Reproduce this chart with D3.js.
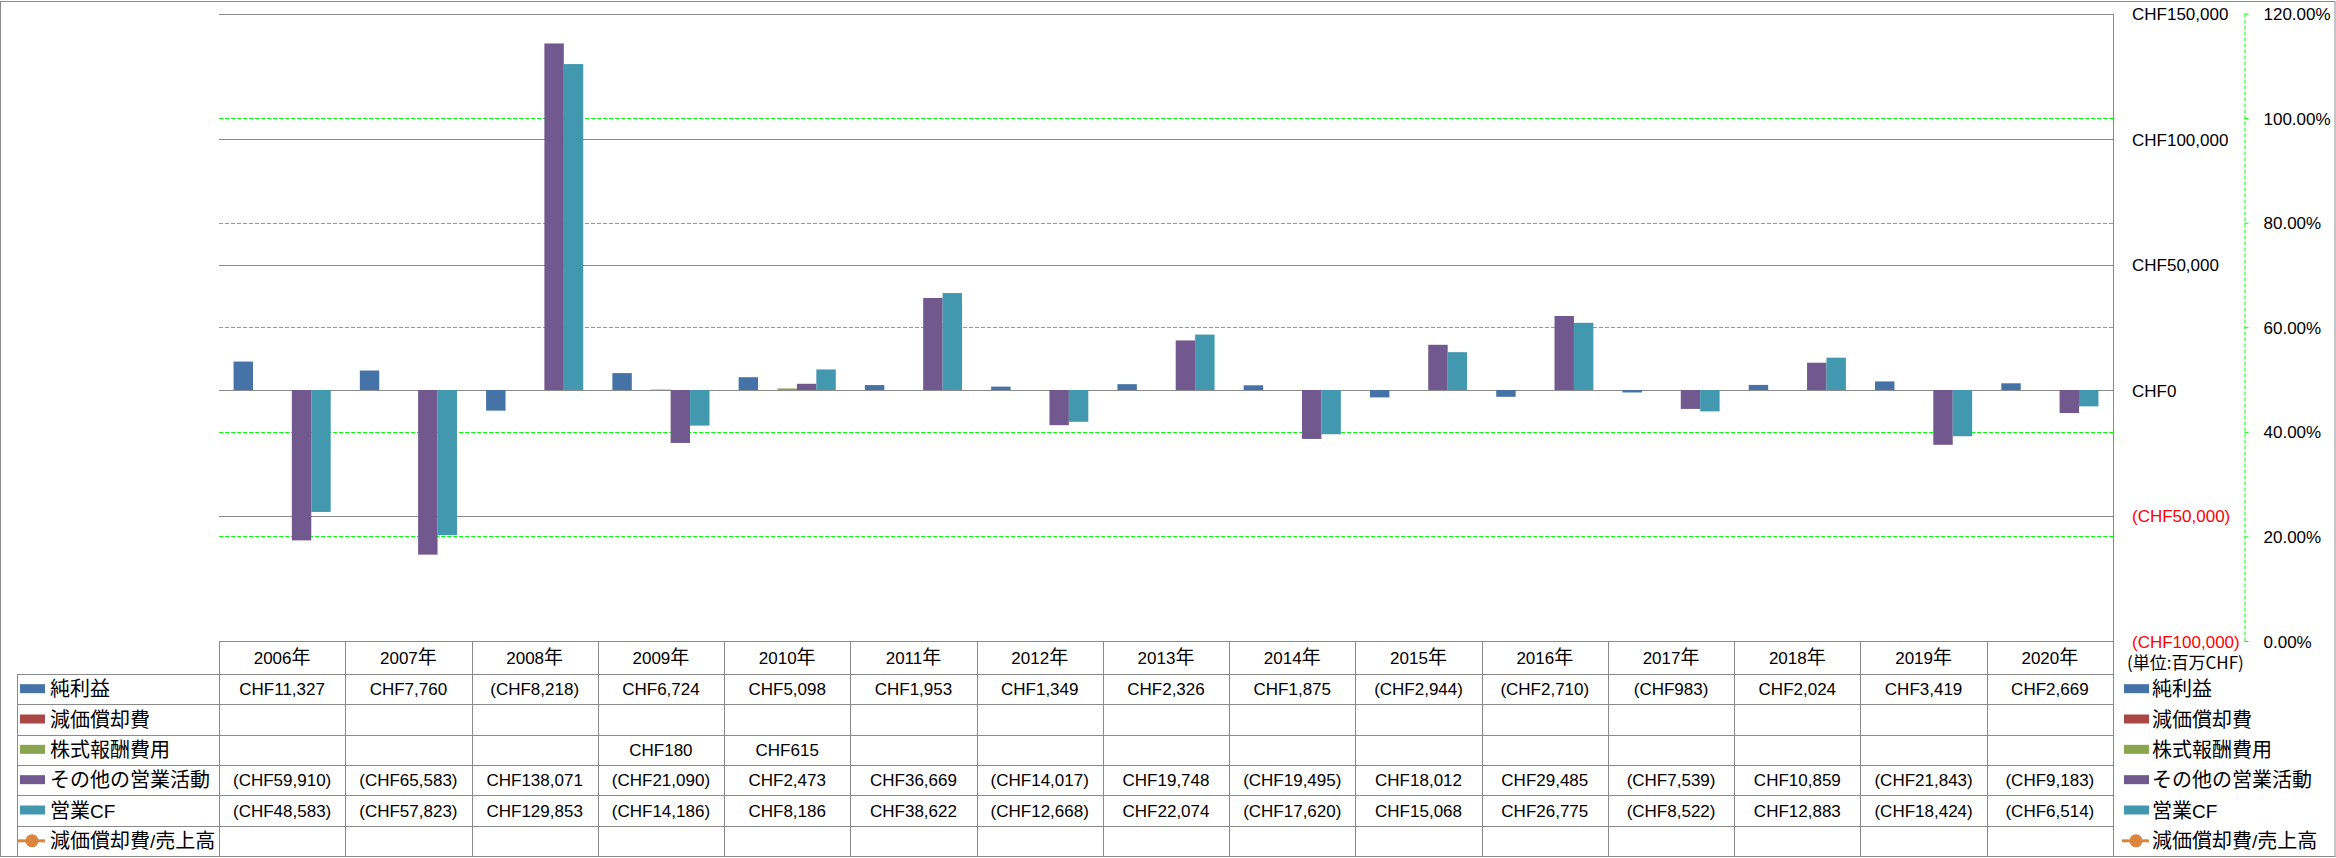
<!DOCTYPE html>
<html>
<head>
<meta charset="utf-8">
<script src="https://cdn.jsdelivr.net/npm/d3@7"></script>
<style>
  body { margin: 0; background: #fff; }
  svg { display: block; font-family: 'Liberation Sans', 'Noto Sans CJK JP', sans-serif; }
</style>
</head>
<body>
<svg class="cf-svg"></svg>
<script>

const years = ['2006年', '2007年', '2008年', '2009年', '2010年', '2011年', '2012年', '2013年',
    '2014年', '2015年', '2016年', '2017年', '2018年', '2019年', '2020年']

const seriesNames = ['純利益', '減価償却費', '株式報酬費用', 'その他の営業活動', '営業CF']
const lineName = '減価償却費/売上高'

const netIncome = [11327, 7760, -8218, 6724, 5098, 1953, 1349, 2326, 1875, -2944, -2710, -983, 2024, 3419, 2669]
const depreciation = [null, null, null, null, null, null, null, null, null, null, null, null, null, null, null]
const stockComp = [null, null, null, 180, 615, null, null, null, null, null, null, null, null, null, null]
const otherOps = [-59910, -65583, 138071, -21090, 2473, 36669, -14017, 19748, -19495, 18012, 29485, -7539, 10859, -21843, -9183]
const operatingCF = [-48583, -57823, 129853, -14186, 8186, 38622, -12668, 22074, -17620, 15068, 26775, -8522, 12883, -18424, -6514]
const depRatio = [null, null, null, null, null, null, null, null, null, null, null, null, null, null, null]

const valueTicks = [-100000, -50000, 0, 50000, 100000, 150000]
const pctTicks = [0, 0.2, 0.4, 0.6, 0.8, 1.0, 1.2]

const colors = ['#4572A7', '#AA4643', '#89A54E', '#71588F', '#4198AF']
const lineColor = '#DB843D'

const width = 2336
const height = 858

const plot = { left: 219, right: 2113, top: 13.5, bottom: 641 }
const tableBottom = 856
const labelLeft = 17

const svg = d3.select('.cf-svg')
    .attr('width', width)
    .attr('height', height)

const x0 = d3.scaleBand()
    .domain(years)
    .range([ plot.left, plot.right ])

const x1 = d3.scaleBand()
    .domain(seriesNames)
    .range([ 0, x0.bandwidth() ])
    .paddingOuter(0.75)

const yScale = d3.scaleLinear()
    .domain([ -100000, 150000 ])
    .range([ plot.bottom, plot.top ])

const pScale = d3.scaleLinear()
    .domain([ 0, 1.2 ])
    .range([ plot.bottom, plot.top ])

const rowY = d3.scaleLinear()
    .domain([ 0, 6 ])
    .range([ 674, tableBottom ])

const grey = '#8A8A8A'
const comma = d3.format(',')
const chf = v => v == null ? '' : (v < 0 ? `(CHF${comma(-v)})` : `CHF${comma(v)}`)

// split text in latin / CJK runs so each gets its own font
const cjk = /[\u3000-\u30ff\u3400-\u9fff\uff00-\uffef]/
const addText = (el, str, latinSize, cjkSize) => {
    const runs = []
    for (const ch of str) {
        const c = cjk.test(ch)
        if (runs.length && runs[runs.length - 1].c === c) runs[runs.length - 1].t += ch
        else runs.push({ c, t: ch })
    }
    runs.forEach(r => el.append('tspan')
        .attr('font-family', r.c ? "'Noto Sans CJK JP'" : "'Liberation Sans'")
        .attr('font-size', r.c ? cjkSize : latinSize)
        .text(r.t))
}

// outer frame
svg.append('rect')
    .attr('x', 0.5)
    .attr('y', 1.5)
    .attr('width', width - 1.5)
    .attr('height', tableBottom - 1)
    .attr('fill', 'none')
    .attr('stroke', grey)

// gridlines
svg.selectAll('.cf-grid')
    .data(valueTicks.filter(d => d > -100000))
    .enter()
    .append('line')
    .attr('class', 'cf-grid')
    .attr('x1', plot.left)
    .attr('x2', plot.right)
    .attr('y1', d => Math.round(yScale(d)) + 0.5)
    .attr('y2', d => Math.round(yScale(d)) + 0.5)
    .attr('stroke', grey)

svg.selectAll('.cf-pgrid')
    .data(pctTicks.filter(d => d > 0 && d < 1.2))
    .enter()
    .append('line')
    .attr('class', 'cf-pgrid')
    .attr('x1', plot.left)
    .attr('x2', plot.right)
    .attr('y1', d => Math.round(pScale(d)) + 0.5)
    .attr('y2', d => Math.round(pScale(d)) + 0.5)
    .attr('stroke', '#00FF00')
    .attr('stroke-dasharray', '4,2')

// bars
const barSeries = [ netIncome, depreciation, stockComp, otherOps, operatingCF ]

const barData = []
years.forEach((yr, i) => {
    barSeries.forEach((vals, s) => {
        if (vals[i] != null) barData.push({ year: yr, name: seriesNames[s], value: vals[i], color: colors[s] })
    })
})

svg.selectAll('.cf-bar')
    .data(barData)
    .enter()
    .append('rect')
    .attr('class', 'cf-bar')
    .attr('x', d => x0(d.year) + x1(d.name))
    .attr('width', x1.bandwidth())
    .attr('y', d => Math.min(yScale(d.value), yScale(0)))
    .attr('height', d => Math.max(Math.abs(yScale(d.value) - yScale(0)), 0.5))
    .attr('fill', d => d.color)

// plot right border
svg.append('line')
    .attr('x1', plot.right + 0.5)
    .attr('x2', plot.right + 0.5)
    .attr('y1', plot.top)
    .attr('y2', tableBottom)
    .attr('stroke', grey)

// value axis labels (right of plot)
const valueAxis = svg.append('g')
    .attr('transform', `translate(${plot.right}, 0)`)
    .call(d3.axisRight(yScale).tickValues(valueTicks).tickSize(0).tickPadding(19).tickFormat(chf))

valueAxis.select('.domain').remove()
valueAxis.selectAll('text')
    .attr('font-family', "'Liberation Sans'")
    .attr('font-size', 17)
    .attr('dy', '0.36em')
    .attr('fill', d => d < 0 ? '#FF0000' : '#000')

// percent axis
const pctAxis = svg.append('g')
    .attr('transform', `translate(2244.5, 0)`)
    .call(d3.axisRight(pScale).tickValues(pctTicks).tickSize(4).tickSizeOuter(0).tickPadding(15).tickFormat(d3.format('.2%')))

pctAxis.select('.domain')
    .attr('stroke', '#00FF00')
    .attr('stroke-dasharray', '4,2')
pctAxis.selectAll('line').attr('stroke', '#00FF00')
pctAxis.selectAll('text')
    .attr('font-family', "'Liberation Sans'")
    .attr('font-size', 17)
    .attr('dy', '0.36em')
    .attr('fill', '#000')

svg.append('text')
    .attr('x', 2127)
    .attr('y', 669)
    .attr('font-family', "'Noto Sans CJK JP'")
    .attr('font-size', 17)
    .text('(単位:百万CHF)')

// data table
const rows = seriesNames.map((n, s) => ({ name: n, values: barSeries[s], color: colors[s], type: 'bar' }))
rows.push({ name: lineName, values: depRatio, color: lineColor, type: 'line' })

const tableLines = svg.append('g')
    .attr('stroke', grey)

tableLines.append('line')
    .attr('x1', plot.left).attr('x2', plot.right)
    .attr('y1', plot.bottom + 0.5).attr('y2', plot.bottom + 0.5)

tableLines.selectAll('.cf-hline')
    .data(d3.range(0, 7))
    .enter()
    .append('line')
    .attr('x1', labelLeft)
    .attr('x2', plot.right)
    .attr('y1', d => Math.round(rowY(d)) + 0.5)
    .attr('y2', d => Math.round(rowY(d)) + 0.5)

tableLines.selectAll('.cf-vline')
    .data(years)
    .enter()
    .append('line')
    .attr('x1', d => Math.round(x0(d)) + 0.5)
    .attr('x2', d => Math.round(x0(d)) + 0.5)
    .attr('y1', plot.bottom)
    .attr('y2', tableBottom)

tableLines.append('line')
    .attr('x1', labelLeft + 0.5).attr('x2', labelLeft + 0.5)
    .attr('y1', rowY(0)).attr('y2', tableBottom)

svg.selectAll('.cf-year')
    .data(years)
    .enter()
    .append('text')
    .attr('class', 'cf-year')
    .attr('x', d => x0(d) + x0.bandwidth() / 2)
    .attr('y', (plot.bottom + rowY(0)) / 2 + 6)
    .attr('text-anchor', 'middle')
    .each(function(d) { addText(d3.select(this), d, 17, 19) })

rows.forEach((row, r) => {

    const cy = (rowY(r) + rowY(r + 1)) / 2

    svg.selectAll('.cf-cell-' + r)
        .data(row.values.map((v, i) => ({ v, year: years[i] })))
        .enter()
        .append('text')
        .attr('x', d => x0(d.year) + x0.bandwidth() / 2)
        .attr('y', cy + 6)
        .attr('text-anchor', 'middle')
        .attr('font-family', "'Liberation Sans'")
        .attr('font-size', 17)
        .text(d => chf(d.v))

    // legend key: once in the table, once on the right
    ;[ { sx: 20, tx: 50 }, { sx: 2124, tx: 2152 } ].forEach(pos => {
        if (row.type === 'bar') {
            svg.append('rect')
                .attr('x', pos.sx)
                .attr('y', cy - 5)
                .attr('width', 25)
                .attr('height', 9)
                .attr('fill', row.color)
        } else {
            svg.append('line')
                .attr('x1', pos.sx - 2).attr('x2', pos.sx + 25)
                .attr('y1', cy).attr('y2', cy)
                .attr('stroke', row.color)
                .attr('stroke-width', 3)
            svg.append('circle')
                .attr('cx', pos.sx + 12)
                .attr('cy', cy)
                .attr('r', 6.5)
                .attr('fill', row.color)
        }
        const t = svg.append('text')
            .attr('x', pos.tx)
            .attr('y', cy + 7)
        addText(t, row.name, 19, 20)
    })
})

</script>
</body>
</html>
